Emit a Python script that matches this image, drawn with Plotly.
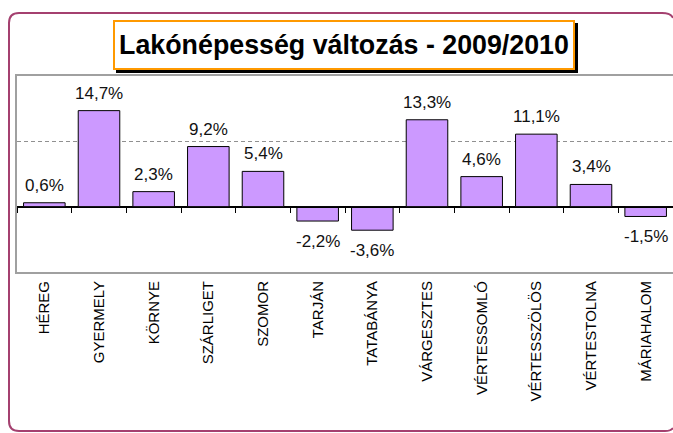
import plotly.graph_objects as go

categories = ["HÉREG", "GYERMELY", "KÖRNYE", "SZÁRLIGET", "SZOMOR", "TARJÁN",
              "TATABÁNYA", "VÁRGESZTES", "VÉRTESSOMLÓ", "VÉRTESSZÖLÖS",
              "VÉRTESTOLNA", "MÁRIAHALOM"]
values = [0.6, 14.7, 2.3, 9.2, 5.4, -2.2, -3.6, 13.3, 4.6, 11.1, 3.4, -1.5]
title_text = "Lakónépesség változás - 2009/2010"
y_range = [-10, 20]
y_dtick = 10

W, H = 673, 433
# plot area in window pixels: x 17..673, y 76..272
PL, PR, PT, PB = 17, 673, 76, 272
ML, MT = PL, PT
MR = W - PR
MB = H - PB
plot_w = PR - PL
plot_h = PB - PT


def px(x):
    return (x - PL) / plot_w


def py(y):
    return (PB - y) / plot_h


def pt(x, y):
    return f"{px(x)},{py(y)}"


labels = [f"{v:.1f}%".replace(".", ",") for v in values]
FONT = "Liberation Sans, Arial, sans-serif"

fig = go.Figure()
fig.add_bar(x=categories, y=values,
            marker=dict(color="#CC99FF", line=dict(color="black", width=1)),
            hoverinfo="skip", showlegend=False)
# helper trace for the category axis drawn at zero
fig.add_scatter(x=categories, y=values, xaxis="x2", mode="markers",
                marker=dict(opacity=0), hoverinfo="skip", showlegend=False)

for c, v, t in zip(categories, values, labels):
    fig.add_annotation(x=c, y=v, text=t, showarrow=False, xref="x", yref="y",
                       yanchor="bottom" if v >= 0 else "top",
                       yshift=6 if v >= 0 else -9,
                       font=dict(family=FONT, size=17, color="#111111"))

# title box with shadow
fig.add_shape(type="rect", xref="paper", yref="paper",
              x0=px(116), x1=px(578), y0=py(73), y1=py(23),
              fillcolor="black", line=dict(width=0), layer="above")
fig.add_annotation(x=px(344), y=py(45), xref="paper", yref="paper",
                   text=title_text, showarrow=False,
                   xanchor="center", yanchor="middle",
                   width=458, height=46, borderpad=0,
                   bordercolor="#FF9900", borderwidth=2, bgcolor="white",
                   font=dict(family=FONT, size=26.8, color="black", weight="bold"))

# outer rounded chart border; its right side lies beyond the picture edge
path = (f"M {pt(673, 428)} Q {pt(671, 431)} {pt(665, 431)} "
        f"L {pt(19, 431)} Q {pt(9, 431)} {pt(9, 421)} "
        f"L {pt(9, 23)} Q {pt(9, 13)} {pt(19, 13)} "
        f"L {pt(662, 13)} Q {pt(671, 13)} {pt(673, 18)}")
fig.add_shape(type="path", path=path, xref="paper", yref="paper",
              line=dict(color="#A4406F", width=2), layer="above")

fig.update_layout(
    width=W, height=H,
    margin=dict(l=ML, r=MR, t=MT, b=MB, pad=0),
    paper_bgcolor="white", plot_bgcolor="white",
    bargap=0.24, showlegend=False,
    xaxis=dict(type="category", range=[-0.5, len(categories) - 0.5],
               showline=True, linecolor="#A0A0A0", linewidth=2, mirror=True,
               ticks="", tickangle=-90, showgrid=False,
               ticklabelstandoff=1,
               tickfont=dict(family=FONT, size=15, color="black")),
    xaxis2=dict(type="category", overlaying="x", anchor="free",
                position=(0 - y_range[0]) / (y_range[1] - y_range[0]),
                matches="x", showline=True, linecolor="black", linewidth=1,
                ticks="outside", ticklen=5, tickcolor="black", tickwidth=1,
                tickson="boundaries", showticklabels=False, showgrid=False),
    yaxis=dict(range=y_range, dtick=y_dtick, tick0=0, showticklabels=False,
               showgrid=True, gridcolor="#909090", gridwidth=1,
               griddash="4px,3px",
               zeroline=True, zerolinecolor="black", zerolinewidth=1,
               showline=True, linecolor="#A0A0A0", linewidth=2, mirror=False),
)

fig.write_html(
    "out.html",
    config={"displayModeBar": False, "staticPlot": True},
    post_script=(
        "document.documentElement.style.margin='0';"
        "document.documentElement.style.overflow='hidden';"
        "document.body.style.margin='0';"
        "document.body.style.overflow='hidden';"
    ),
)
